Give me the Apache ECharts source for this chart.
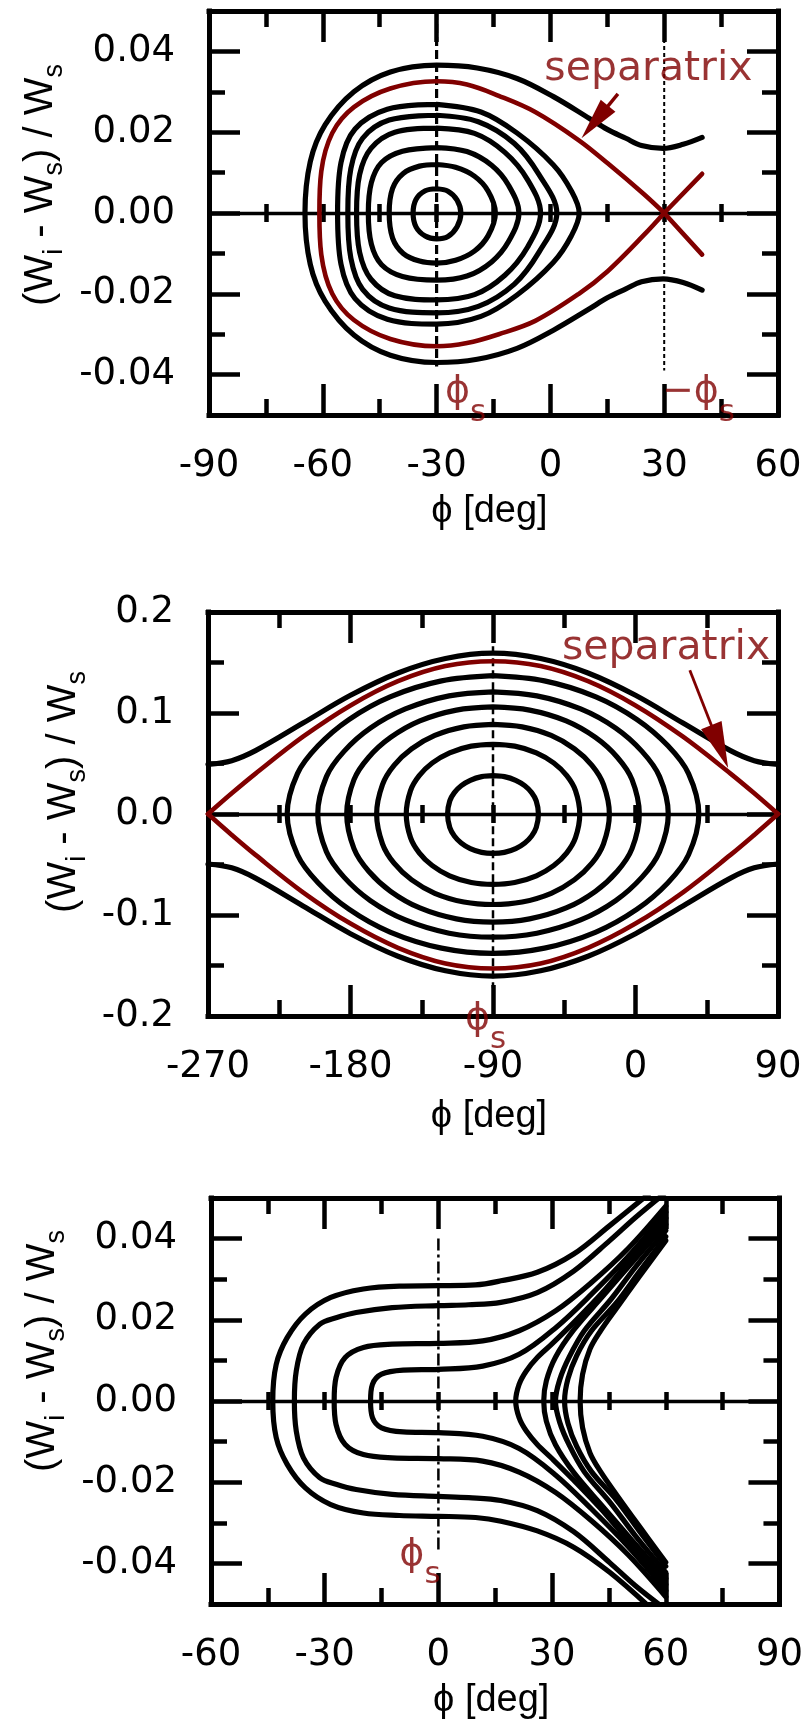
<!DOCTYPE html>
<html>
<head>
<meta charset="utf-8">
<title>Longitudinal phase space</title>
<script src="https://cdn.jsdelivr.net/npm/echarts@6/dist/echarts.min.js"></script>
<style>
  html, body { margin: 0; padding: 0; background: #ffffff; }
  #chart { width: 806px; height: 1733px; }
</style>
</head>
<body>
<div id="chart"></div>
<script>
// ---------------- panel 1 : accelerating bucket, phi_s = -30 deg ----------------
const p1XTicks = [-90, -60, -30, 0, 30, 60];
const p1XTickLabels = ['-90', '-60', '-30', '0', '30', '60'];
const p1YTicks = [-0.04, -0.02, 0, 0.02, 0.04];
const p1YTickLabels = ['-0.04', '-0.02', '0.00', '0.02', '0.04'];

const p1Ring1 = [[-30,0.0060],[-27,0.0054],[-24.6,0.0032],[-23.6,0],[-24.6,-0.0034],[-27,-0.0058],[-30,-0.0064],[-33,-0.0057],[-35.4,-0.0035],[-36.2,0],[-35.4,0.0034],[-33,0.0055],[-30,0.0060]];
const p1Ring2 = [[-30,0.0120],[-25,0.0113],[-20,0.0091],[-16.4,0.0054],[-14.5,0],[-16.4,-0.0056],[-20,-0.0094],[-25,-0.0117],[-30,-0.0124],[-34.5,-0.0119],[-38.8,-0.0100],[-41.6,-0.0062],[-42.5,0],[-41.6,0.0061],[-38.8,0.0098],[-34.5,0.0116],[-30,0.0120]];
const p1Ring3 = [[-30,0.0162],[-22,0.0152],[-15.5,0.0118],[-11,0.0068],[-8.3,0],[-11,-0.0070],[-15.5,-0.0121],[-22,-0.0156],[-30,-0.0166],[-39,-0.0157],[-44.5,-0.0128],[-47.2,-0.0077],[-48,0],[-47.2,0.0075],[-44.5,0.0125],[-39,0.0153],[-30,0.0162]];
const p1Ring4 = [[-30,0.0210],[-20,0.0197],[-12,0.0150],[-6,0.0082],[-2.6,0],[-6,-0.0084],[-12,-0.0154],[-20,-0.0202],[-30,-0.0215],[-41,-0.0205],[-47.3,-0.0164],[-50.3,-0.0097],[-51.1,0],[-50.3,0.0095],[-47.3,0.0160],[-41,0.0200],[-30,0.0210]];
const p1Ring5 = [[-30,0.0242],[-19,0.0226],[-9.5,0.0172],[-3,0.0095],[1.7,0],[-3,-0.0097],[-9.5,-0.0176],[-19,-0.0231],[-30,-0.0247],[-42.5,-0.0235],[-49.5,-0.0189],[-52.6,-0.0112],[-53.4,0],[-52.6,0.0110],[-49.5,0.0185],[-42.5,0.0230],[-30,0.0242]];
const p1Ring6 = [[-30,0.0269],[-18.3,0.0250],[-8.8,0.0198],[0.8,0.0119],[5.5,0.0055],[7.6,0],[5.5,-0.0057],[0.8,-0.0122],[-8.8,-0.0203],[-18.3,-0.0256],[-30,-0.0275],[-43,-0.0263],[-51.5,-0.0212],[-55.2,-0.0127],[-56.1,0],[-55.2,0.0125],[-51.5,0.0208],[-43,0.0257],[-30,0.0269]];
const p1SepArc = [[30,0],[24.6,-0.0055],[15.1,-0.0144],[7.5,-0.0200],[-4,-0.0267],[-13.6,-0.0300],[-22,-0.0322],[-30,-0.0330],[-42.2,-0.0312],[-51.8,-0.0265],[-57.5,-0.0200],[-60.4,-0.0103],[-60.9,0],[-60.4,0.0103],[-57.5,0.0198],[-51.8,0.0262],[-42.2,0.0308],[-30,0.0326],[-22,0.0318],[-13.6,0.0290],[-4,0.0250],[7.5,0.0180],[15.1,0.0123],[24.6,0.0047],[30,0]];
const p1SepTailUp = [[30,0],[40,0.0097]];
const p1SepTailDown = [[30,0],[40,-0.0103]];
const p1OuterOrbit = [[40,0.0187],[35,0.0170],[29.7,0.0160],[24,0.0167],[19.9,0.0185],[15,0.0207],[10.3,0.0234],[0.8,0.0288],[-8.8,0.0333],[-19.3,0.0359],[-30,0.0366],[-42.2,0.0349],[-51.8,0.0300],[-59.4,0.0218],[-63.3,0.0127],[-64.7,0],[-63.3,-0.0127],[-59.4,-0.0218],[-51.8,-0.0302],[-42.2,-0.0352],[-30,-0.0370],[-19.3,-0.0362],[-8.8,-0.0335],[0.8,-0.0290],[10.3,-0.0237],[15,-0.0210],[19.9,-0.0188],[24,-0.0170],[29.7,-0.0163],[35,-0.0172],[40,-0.0191]];
const p1PhiSLine = [[-30,0.05],[-30,-0.038]];
const p1MinusPhiSLine = [[30,0.05],[30,-0.039]];
const p1Arrow = [[17.8,0.0295],[11.7,0.0225]];
const p1SepTextAt = [-1.6,0.0355];
const p1PhiSAt = [-27.8,-0.0443];
const p1MinusPhiSAt = [29.4,-0.0443];

// ---------------- panel 2 : stationary bucket, phi_s = -90 deg ----------------
const p2XTicks = [-270, -180, -90, 0, 90];
const p2XTickLabels = ['-270', '-180', '-90', '0', '90'];
const p2YTicks = [-0.2, -0.1, 0, 0.1, 0.2];
const p2YTickLabels = ['-0.2', '-0.1', '0.0', '0.1', '0.2'];

const p2Ring1 = [[-90,0.0380],[-82.8,0.0370],[-75.65,0.0334],[-69.9,0.0280],[-65.6,0.0212],[-62.7,0.0130],[-61.3,0],[-62.7,-0.0133],[-65.6,-0.0217],[-69.9,-0.0287],[-75.65,-0.0343],[-82.8,-0.0380],[-90,-0.0390],[-97.2,-0.0380],[-104.35,-0.0343],[-110.1,-0.0287],[-114.4,-0.0217],[-117.3,-0.0133],[-118.7,0],[-117.3,0.0130],[-114.4,0.0212],[-110.1,0.0280],[-104.35,0.0334],[-97.2,0.0370],[-90,0.0380]];
const p2Ring2 = [[-90,0.0690],[-76.3,0.0672],[-62.6,0.0606],[-51.6,0.0505],[-43.4,0.0380],[-37.9,0.0232],[-35.2,0],[-37.9,-0.0234],[-43.4,-0.0384],[-51.6,-0.0510],[-62.6,-0.0612],[-76.3,-0.0678],[-90,-0.0696],[-103.7,-0.0678],[-117.4,-0.0612],[-128.4,-0.0510],[-136.6,-0.0384],[-142.1,-0.0234],[-144.8,0],[-142.1,0.0232],[-136.6,0.0380],[-128.4,0.0505],[-117.4,0.0606],[-103.7,0.0672],[-90,0.0690]];
const p2Ring3 = [[-90,0.0888],[-71.6,0.0863],[-53.25,0.0778],[-38.55,0.0645],[-27.5,0.0482],[-20.2,0.0292],[-16.5,0],[-20.2,-0.0295],[-27.5,-0.0487],[-38.55,-0.0651],[-53.25,-0.0785],[-71.6,-0.0871],[-90,-0.0896],[-108.4,-0.0871],[-126.75,-0.0785],[-141.45,-0.0651],[-152.5,-0.0487],[-159.8,-0.0295],[-163.5,0],[-159.8,0.0292],[-152.5,0.0482],[-141.45,0.0645],[-126.75,0.0778],[-108.4,0.0863],[-90,0.0888]];
const p2Ring4 = [[-90,0.1060],[-66.9,0.1029],[-43.8,0.0922],[-25.3,0.0758],[-11.5,0.0562],[-2.2,0.0340],[2.4,0],[-2.2,-0.0343],[-11.5,-0.0567],[-25.3,-0.0765],[-43.8,-0.0930],[-66.9,-0.1038],[-90,-0.1070],[-113.1,-0.1038],[-136.2,-0.0930],[-154.7,-0.0765],[-168.5,-0.0567],[-177.8,-0.0343],[-182.4,0],[-177.8,0.0340],[-168.5,0.0562],[-154.7,0.0758],[-136.2,0.0922],[-113.1,0.1029],[-90,0.1060]];
const p2Ring5 = [[-90,0.1210],[-62.3,0.1170],[-34.65,0.1040],[-12.5,0.0850],[4.1,0.0620],[15.2,0.0370],[20.7,0],[15.2,-0.0373],[4.1,-0.0625],[-12.5,-0.0857],[-34.65,-0.1049],[-62.3,-0.1180],[-90,-0.1220],[-117.7,-0.1180],[-145.35,-0.1049],[-167.5,-0.0857],[-184.1,-0.0625],[-195.2,-0.0373],[-200.7,0],[-195.2,0.0370],[-184.1,0.0620],[-167.5,0.0850],[-145.35,0.1040],[-117.7,0.1170],[-90,0.1210]];
const p2Ring6 = [[-90,0.1370],[-57.5,0.1318],[-25,0.1160],[1,0.0935],[20.5,0.0675],[33.5,0.0400],[40,0],[33.5,-0.0403],[20.5,-0.0680],[1,-0.0942],[-25,-0.1169],[-57.5,-0.1328],[-90,-0.1380],[-122.5,-0.1328],[-155,-0.1169],[-181,-0.0942],[-200.5,-0.0680],[-213.5,-0.0403],[-220,0],[-213.5,0.0400],[-200.5,0.0675],[-181,0.0935],[-155,0.1160],[-122.5,0.1318],[-90,0.1370]];
const p2SepUpper = [[-270,0],[-255,0.0205],[-240,0.0400],[-210,0.0765],[-180,0.1075],[-150,0.1315],[-120,0.1465],[-90,0.1513],[-60,0.1465],[-30,0.1315],[0,0.1075],[30,0.0765],[60,0.0400],[75,0.0205],[90,0]];
const p2SepLower = [[-270,0],[-255,-0.0207],[-240,-0.0405],[-210,-0.0775],[-180,-0.1085],[-150,-0.1325],[-120,-0.1480],[-90,-0.1530],[-60,-0.1480],[-30,-0.1325],[0,-0.1085],[30,-0.0775],[60,-0.0405],[75,-0.0207],[90,0]];
const p2OuterUpper = [[-270,0.0490],[-255,0.0528],[-240,0.0627],[-210,0.0900],[-180,0.1175],[-150,0.1396],[-120,0.1539],[-90,0.1592],[-60,0.1539],[-30,0.1396],[0,0.1175],[30,0.0900],[60,0.0627],[75,0.0528],[90,0.0490]];
const p2OuterLower = [[-270,-0.0495],[-255,-0.0533],[-240,-0.0635],[-210,-0.0910],[-180,-0.1185],[-150,-0.1408],[-120,-0.1552],[-90,-0.1605],[-60,-0.1552],[-30,-0.1408],[0,-0.1185],[30,-0.0910],[60,-0.0635],[75,-0.0533],[90,-0.0495]];
const p2PhiSLine = [[-90,0.166],[-90,-0.172]];
const p2Arrow = [[34.3,0.1423],[53.2,0.0668]];
const p2SepTextAt = [-46.5,0.1639];
const p2PhiSAt = [-107.7,-0.2030];

// ---------------- panel 3 : no stable region, phi_s = 0 deg ----------------
const p3XTicks = [-60, -30, 0, 30, 60, 90];
const p3XTickLabels = ['-60', '-30', '0', '30', '60', '90'];
const p3YTicks = [-0.04, -0.02, 0, 0.02, 0.04];
const p3YTickLabels = ['-0.04', '-0.02', '0.00', '0.02', '0.04'];

const p3OrbitC1 = [[55.5,0.0510],[45.2,0.0432],[35.7,0.0362],[26.1,0.0317],[16.5,0.0296],[9.8,0.0286],[0,0.0284],[-10.3,0.0283],[-19.8,0.0276],[-28.4,0.0255],[-35.1,0.0214],[-39.9,0.0156],[-42.8,0.0090],[-43.7,0],[-42.8,-0.0090],[-39.9,-0.0156],[-35.1,-0.0214],[-28.4,-0.0255],[-19.8,-0.0276],[-10.3,-0.0282],[0,-0.0284],[9.8,-0.0287],[16.5,-0.0296],[26.1,-0.0320],[35.7,-0.0360],[45.2,-0.0422],[56,-0.0510]];
const p3OrbitC2 = [[59.5,0.0510],[52,0.0452],[45.2,0.0395],[35.7,0.0320],[26.1,0.0267],[16.5,0.0243],[8,0.0237],[0,0.0235],[-12.2,0.0230],[-21.7,0.0218],[-27,0.0205],[-31.3,0.0189],[-35.6,0.0140],[-37.5,0.0074],[-38,0],[-37.5,-0.0074],[-35.6,-0.0140],[-31.3,-0.0189],[-27,-0.0205],[-21.7,-0.0218],[-12.2,-0.0230],[0,-0.0235],[8,-0.0238],[16.5,-0.0245],[26.1,-0.0270],[35.7,-0.0322],[45.2,-0.0398],[52,-0.0455],[59.5,-0.0510]];
const p3OrbitC3 = [[60,0.0480],[50,0.0375],[40.4,0.0292],[30.9,0.0222],[21.3,0.0173],[11.7,0.0148],[0,0.0142],[-12.2,0.0140],[-19.8,0.0132],[-24.6,0.0107],[-27,0.0058],[-27.5,0],[-27,-0.0058],[-24.6,-0.0107],[-19.8,-0.0132],[-12.2,-0.0140],[0,-0.0142],[11.7,-0.0148],[21.3,-0.0175],[30.9,-0.0225],[40.4,-0.0295],[50,-0.0378],[60,-0.0482]];
const p3OrbitC4 = [[60,0.0465],[50,0.0355],[40.4,0.0263],[30.9,0.0180],[21.3,0.0115],[11.7,0.0086],[0,0.0078],[-9.3,0.0076],[-15,0.0066],[-17.4,0.0041],[-17.9,0],[-17.4,-0.0041],[-15,-0.0066],[-9.3,-0.0076],[0,-0.0078],[11.7,-0.0087],[21.3,-0.0117],[30.9,-0.0182],[40.4,-0.0266],[50,-0.0358],[60,-0.0467]];
const p3OrbitR1 = [[60,0.0450],[51,0.0352],[43.3,0.0267],[35.7,0.0193],[29.9,0.0140],[26.1,0.0107],[23.2,0.0074],[21.3,0.0041],[20.4,0],[21.3,-0.0041],[23.2,-0.0074],[26.1,-0.0107],[29.9,-0.0141],[35.7,-0.0195],[43.3,-0.0270],[51,-0.0355],[60,-0.0452]];
const p3OrbitR2 = [[60,0.0435],[51,0.0340],[43.3,0.0257],[35.7,0.0175],[30.9,0.0108],[28.5,0.0050],[27.8,0],[28.5,-0.0050],[30.9,-0.0108],[35.7,-0.0176],[43.3,-0.0259],[51,-0.0342],[60,-0.0437]];
const p3OrbitR3 = [[60,0.0420],[52,0.0330],[45.5,0.0250],[38.5,0.0173],[34.5,0.0108],[32,0.0052],[30.9,0],[32,-0.0052],[34.5,-0.0108],[38.5,-0.0174],[45.5,-0.0252],[52,-0.0332],[60,-0.0422]];
const p3OrbitR4 = [[60,0.0405],[53,0.0318],[47,0.0242],[40.4,0.0173],[36.5,0.0112],[34.2,0.0055],[33.3,0],[34.2,-0.0055],[36.5,-0.0112],[40.4,-0.0174],[47,-0.0244],[53,-0.0320],[60,-0.0407]];
const p3OrbitR5 = [[60,0.0395],[52.9,0.0305],[47.1,0.0230],[42.8,0.0173],[40,0.0128],[38.05,0.0066],[37.4,0],[38.05,-0.0066],[40,-0.0128],[42.8,-0.0174],[47.1,-0.0232],[52.9,-0.0307],[60,-0.0397]];
const p3EdgeTop = [[60,0.0505],[60,0.0395]];
const p3EdgeBottom = [[60,-0.0397],[60,-0.0505]];
const p3PhiSLine = [[0,0.040],[0,-0.037]];
const p3PhiSAt = [-10.3,-0.0379];

// ---------------- shared look ----------------
const INK = '#000000';
const MAROON = '#800000';
const FONT = 'DejaVu Sans';
const TITLE_FONT = 'Liberation Sans';

const panels = [
  { grid: { left: 209, top: 11, width: 569, height: 404 },
    x: [-90, 60, 15], xTicks: p1XTicks, xLabels: p1XTickLabels,
    y: [-0.05, 0.05, 0.01], yTicks: p1YTicks, yLabels: p1YTickLabels,
    yNameGap: 132, yNameShift: 56, xNameGap: 78 },
  { grid: { left: 208, top: 612, width: 570, height: 404 },
    x: [-270, 90, 45], xTicks: p2XTicks, xLabels: p2XTickLabels,
    y: [-0.2, 0.2, 0.05], yTicks: p2YTicks, yLabels: p2YTickLabels,
    yNameGap: 110, yNameShift: 44, xNameGap: 82 },
  { grid: { left: 211, top: 1198, width: 570, height: 406 },
    x: [-60, 90, 15], xTicks: p3XTicks, xLabels: p3XTickLabels,
    y: [-0.05, 0.05, 0.01], yTicks: p3YTicks, yLabels: p3YTickLabels,
    yNameGap: 140, yNameShift: 100, xNameGap: 78 }
];

function pickLabel(ticks, labels, v) {
  for (let i = 0; i < ticks.length; i++) {
    if (Math.abs(ticks[i] - v) < 1e-9) return labels[i];
  }
  return '';
}

const frameLine = { show: true, onZero: false, lineStyle: { color: INK, width: 5, cap: 'square' } };
const noLine = { show: false, onZero: false };
const tickStyle = { color: INK, width: 4.5 };
const labelText = { color: INK, fontFamily: FONT, fontSize: 37 };

const xAxes = [];
const yAxes = [];
panels.forEach((p, g) => {
  const yBase = g * 4;
  const xc = { type: 'value', gridIndex: g, min: p.x[0], max: p.x[1], interval: p.x[2],
               splitLine: { show: false }, axisLabel: { show: false }, axisPointer: { show: false } };
  const yc = { type: 'value', gridIndex: g, min: p.y[0], max: p.y[1], interval: p.y[2],
               splitLine: { show: false }, axisLabel: { show: false }, axisPointer: { show: false } };
  // bottom edge: frame and short ticks
  xAxes.push(Object.assign({}, xc, { position: 'bottom', axisLine: frameLine,
    axisTick: { show: true, inside: true, length: 16, lineStyle: tickStyle } }));
  // bottom edge: long ticks, tick labels and title
  xAxes.push(Object.assign({}, xc, { position: 'bottom', axisLine: noLine,
    axisTick: { show: true, inside: true, length: 31, customValues: p.xTicks, lineStyle: tickStyle },
    axisLabel: Object.assign({ show: true, margin: 33, customValues: p.xTicks,
      formatter: v => pickLabel(p.xTicks, p.xLabels, v) }, labelText),
    name: '\u03d5 [deg]', nameLocation: 'middle', nameGap: p.xNameGap,
    nameTextStyle: { color: INK, fontFamily: TITLE_FONT, fontSize: 38, padding: [0, 8, 0, 0] } }));
  // top edge
  xAxes.push(Object.assign({}, xc, { position: 'top', axisLine: frameLine,
    axisTick: { show: true, inside: true, length: 16, lineStyle: tickStyle } }));
  xAxes.push(Object.assign({}, xc, { position: 'top', axisLine: noLine,
    axisTick: { show: true, inside: true, length: 31, customValues: p.xTicks, lineStyle: tickStyle } }));
  // zero-energy line with ticks crossing it
  xAxes.push(Object.assign({}, xc, { position: 'bottom',
    axisLine: { show: true, onZero: true, onZeroAxisIndex: yBase, lineStyle: { color: INK, width: 3.4 } },
    axisTick: { show: true, inside: false, length: 9, lineStyle: tickStyle } }));
  xAxes.push(Object.assign({}, xc, { position: 'bottom',
    axisLine: { show: false, onZero: true, onZeroAxisIndex: yBase },
    axisTick: { show: true, inside: true, length: 9, lineStyle: tickStyle } }));

  // left edge: frame and short ticks
  yAxes.push(Object.assign({}, yc, { position: 'left', axisLine: frameLine,
    axisTick: { show: true, inside: true, length: 16, lineStyle: tickStyle } }));
  // left edge: long ticks, labels and title
  yAxes.push(Object.assign({}, yc, { position: 'left', axisLine: noLine,
    axisTick: { show: true, inside: true, length: 31, customValues: p.yTicks, lineStyle: tickStyle },
    axisLabel: Object.assign({ show: true, margin: 34, customValues: p.yTicks,
      formatter: v => pickLabel(p.yTicks, p.yLabels, v) }, labelText),
    name: '{m|(W}{b|i}{m| - W}{b|s}{m|) / W}{b|s}', nameLocation: 'middle', nameRotate: 90, nameGap: p.yNameGap,
    nameTextStyle: { color: INK, fontFamily: TITLE_FONT, padding: [0, 0, 0, p.yNameShift],
      rich: {
        m: { color: INK, fontFamily: TITLE_FONT, fontSize: 40, lineHeight: 40, verticalAlign: 'top' },
        b: { color: INK, fontFamily: TITLE_FONT, fontSize: 27, lineHeight: 27, verticalAlign: 'top', padding: [20, 0, 0, 0] }
      } } }));
  // right edge
  yAxes.push(Object.assign({}, yc, { position: 'right', axisLine: frameLine,
    axisTick: { show: true, inside: true, length: 16, lineStyle: tickStyle } }));
  yAxes.push(Object.assign({}, yc, { position: 'right', axisLine: noLine,
    axisTick: { show: true, inside: true, length: 31, customValues: p.yTicks, lineStyle: tickStyle } }));
});

// ---------------- series helpers ----------------
function orbit(g, pts, color, width, extra) {
  return Object.assign({
    type: 'line', xAxisIndex: g * 6, yAxisIndex: g * 4, data: pts,
    smooth: 0.35, symbol: 'none', silent: true, animation: false, z: 3,
    lineStyle: { color: color, width: width, cap: 'round', join: 'round' },
    emphasis: { disabled: true }
  }, extra || {});
}
function guide(g, pts, width, dash) {
  return {
    type: 'line', xAxisIndex: g * 6, yAxisIndex: g * 4, data: pts,
    symbol: 'none', silent: true, animation: false, z: 2,
    lineStyle: { color: INK, width: width, type: dash },
    emphasis: { disabled: true }
  };
}
function arrow(g, pts, width, head) {
  return {
    type: 'lines', coordinateSystem: 'cartesian2d', xAxisIndex: g * 6, yAxisIndex: g * 4,
    silent: true, animation: false, z: 6,
    symbol: ['none', 'path://M0,0L10,25L-10,25Z'], symbolSize: [1, head],
    lineStyle: { color: MAROON, width: width, opacity: 1 },
    itemStyle: { color: MAROON },
    data: [{ coords: pts }]
  };
}
function note(g, at, text, rich) {
  return {
    type: 'scatter', xAxisIndex: g * 6, yAxisIndex: g * 4, clip: false, silent: true,
    animation: false, z: 7, symbolSize: 0, itemStyle: { color: 'rgba(0,0,0,0)' },
    data: [at],
    label: { show: true, position: 'right', distance: 0, formatter: text, color: MAROON,
      fontFamily: FONT, fontSize: 41, rich: rich || {} },
    emphasis: { disabled: true }
  };
}
const phiRich = {
  p: { color: MAROON, fontFamily: FONT, fontSize: 38, lineHeight: 38, verticalAlign: 'top' },
  s: { color: MAROON, fontFamily: FONT, fontSize: 31, lineHeight: 31, verticalAlign: 'top', padding: [24, 0, 0, 0] }
};

const BLACK_W = 5.2;
const RED_W = 4.6;

const series = [
  // panel 1
  guide(0, p1PhiSLine, 3.2, [9, 4]),
  guide(0, p1MinusPhiSLine, 2, [4, 3]),
  orbit(0, p1Ring1, INK, BLACK_W),
  orbit(0, p1Ring2, INK, BLACK_W),
  orbit(0, p1Ring3, INK, BLACK_W),
  orbit(0, p1Ring4, INK, BLACK_W),
  orbit(0, p1Ring5, INK, BLACK_W),
  orbit(0, p1Ring6, INK, BLACK_W),
  orbit(0, p1OuterOrbit, INK, BLACK_W),
  orbit(0, p1SepArc, MAROON, RED_W, { z: 4 }),
  orbit(0, p1SepTailUp, MAROON, RED_W, { z: 4, smooth: false }),
  orbit(0, p1SepTailDown, MAROON, RED_W, { z: 4, smooth: false }),
  arrow(0, p1Arrow, 3.4, [19, 42]),
  note(0, p1SepTextAt, 'separatrix'),
  note(0, p1PhiSAt, '{p|\u03d5}{s|s}', phiRich),
  note(0, p1MinusPhiSAt, '{p|\u2212\u03d5}{s|s}', phiRich),
  // panel 2
  guide(1, p2PhiSLine, 2.5, [8, 4]),
  orbit(1, p2Ring1, INK, BLACK_W),
  orbit(1, p2Ring2, INK, BLACK_W),
  orbit(1, p2Ring3, INK, BLACK_W),
  orbit(1, p2Ring4, INK, BLACK_W),
  orbit(1, p2Ring5, INK, BLACK_W),
  orbit(1, p2Ring6, INK, BLACK_W),
  orbit(1, p2OuterUpper, INK, BLACK_W),
  orbit(1, p2OuterLower, INK, BLACK_W),
  orbit(1, p2SepUpper, MAROON, RED_W, { z: 4, clip: false }),
  orbit(1, p2SepLower, MAROON, RED_W, { z: 4, clip: false }),
  arrow(1, p2Arrow, 2.8, [22, 46]),
  note(1, p2SepTextAt, 'separatrix'),
  note(1, p2PhiSAt, '{p|\u03d5}{s|s}', phiRich),
  // panel 3
  guide(2, p3PhiSLine, 2.5, [12, 4, 3, 4]),
  guide(2, p3EdgeTop, 1.5, [2, 2]),
  guide(2, p3EdgeBottom, 1.5, [2, 2]),
  orbit(2, p3OrbitC1, INK, BLACK_W),
  orbit(2, p3OrbitC2, INK, BLACK_W),
  orbit(2, p3OrbitC3, INK, BLACK_W),
  orbit(2, p3OrbitC4, INK, BLACK_W),
  orbit(2, p3OrbitR1, INK, BLACK_W),
  orbit(2, p3OrbitR2, INK, BLACK_W),
  orbit(2, p3OrbitR3, INK, BLACK_W),
  orbit(2, p3OrbitR4, INK, BLACK_W),
  orbit(2, p3OrbitR5, INK, BLACK_W),
  note(2, p3PhiSAt, '{p|\u03d5}{s|s}', phiRich)
];

const chart = echarts.init(document.getElementById('chart'), null, { renderer: 'canvas' });
chart.setOption({
  backgroundColor: '#ffffff',
  animation: false,
  textStyle: { fontFamily: FONT },
  grid: panels.map(p => Object.assign({ containLabel: false, show: false }, p.grid)),
  xAxis: xAxes,
  yAxis: yAxes,
  series: series
});
</script>
</body>
</html>
